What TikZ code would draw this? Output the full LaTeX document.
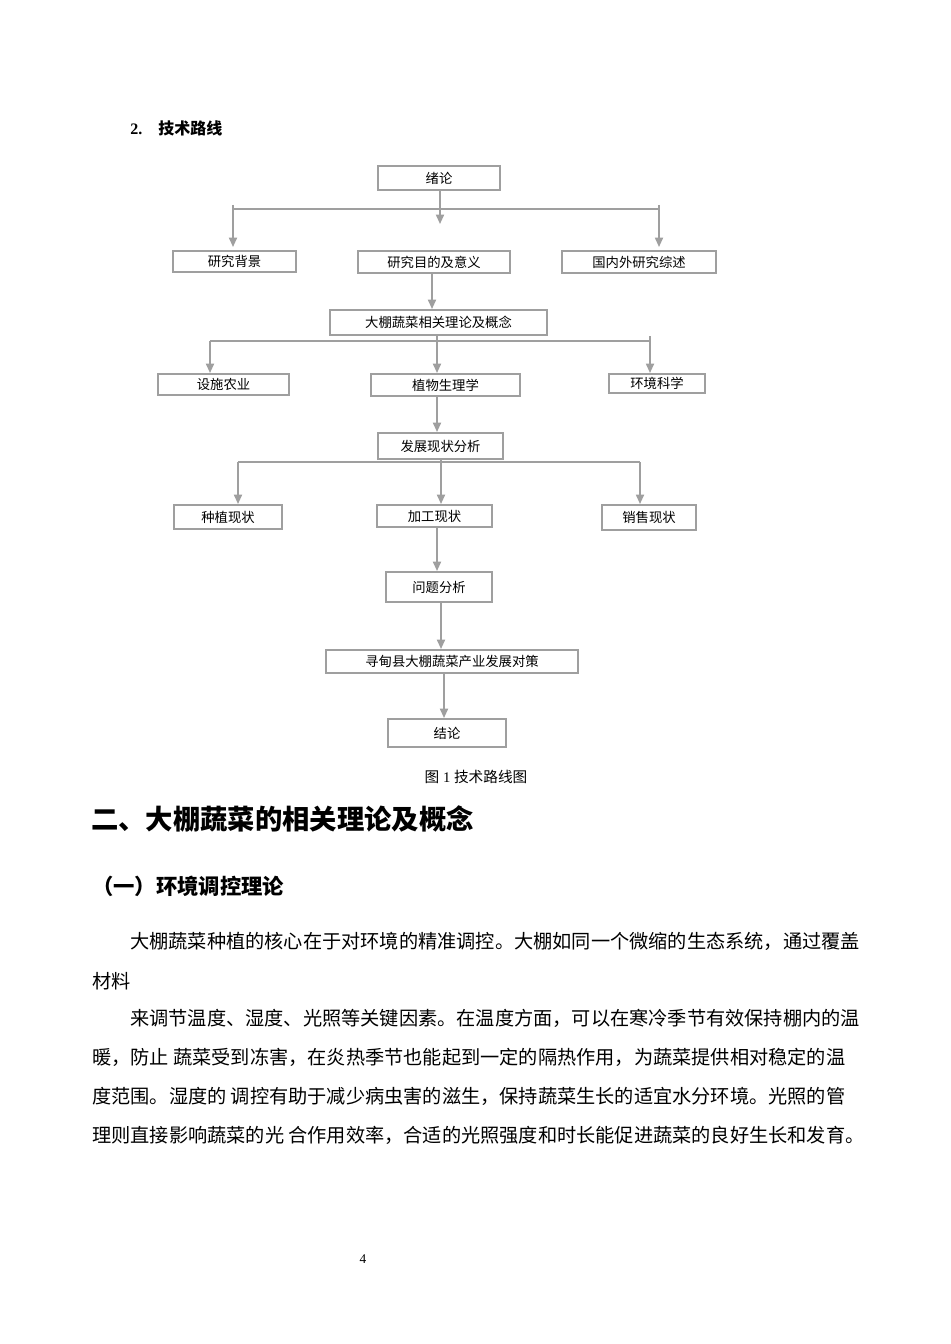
\documentclass[tikz,border=0pt]{standalone}
\usepackage{fontspec}
\setmainfont{Liberation Serif}
\newfontfamily\cjk{Noto Sans CJK SC}
\usetikzlibrary{arrows.meta}
\tikzset{
 bx/.style={draw=gray!75,line width=1.3pt,fill=white,inner sep=0pt,font=\cjk\fontsize{10}{12}\selectfont},
 ar/.style={draw=gray!75,line width=1.3pt,-{Triangle[length=7pt,width=6pt]}},
 ln/.style={draw=gray!75,line width=1.3pt},
 tx/.style={anchor=west,inner sep=0pt,font=\cjk\fontsize{14.4}{16}\selectfont}
}
\newcommand{\bxat}[6]{\node[bx,minimum width=#4*0.75pt-1.3pt,minimum height=#5*0.75pt-1.3pt] (#1) at (#2,#3) {#6};}
\begin{document}
\begin{tikzpicture}[x=0.75pt,y=-0.75pt]
\useasboundingbox[fill=white] (0,0) rectangle (950,1344);
\node[anchor=west,inner sep=0pt,font=\bfseries\fontsize{12}{14}\selectfont] (h0) at (130,128) {2.\quad{\cjk 技术路线}};
\bxat{a}{439}{178}{124}{26}{绪论}
\bxat{b1}{234.5}{261.5}{125}{23}{研究背景}
\bxat{b2}{434}{262}{154}{24}{研究目的及意义}
\bxat{b3}{639}{262}{156}{24}{国内外研究综述}
\bxat{c}{438.5}{322.5}{219}{27}{大棚蔬菜相关理论及概念}
\bxat{d1}{223.5}{384.5}{133}{23}{设施农业}
\bxat{d2}{445.5}{385}{151}{24}{植物生理学}
\bxat{d3}{657}{383.5}{98}{21}{环境科学}
\bxat{e}{440.5}{446}{127}{28}{发展现状分析}
\bxat{f1}{228}{517}{110}{26}{种植现状}
\bxat{f2}{434.5}{516}{117}{24}{加工现状}
\bxat{f3}{649}{517.5}{96}{27}{销售现状}
\bxat{g}{439}{587}{108}{32}{问题分析}
\bxat{h}{452}{661.5}{254}{25}{寻甸县大棚蔬菜产业发展对策}
\bxat{k}{447}{733}{120}{30}{结论}
\coordinate (j1) at (440,209);
\draw[ar] (a.south -| j1) -- (440,224);
\draw[ln] (233,209) -- (659,209);
\draw[ar] (233,205) -- (233,247);
\draw[ar] (659,205) -- (659,247);
\draw[ar] (b2.south -| 432,0) -- (c.north -| 432,0);
\draw[ln] (210,341) -- (650,341);
\draw[ar] (210,341) -- (d1.north -| 210,0);
\draw[ar] (c.south -| 437,0) -- (d2.north -| 437,0);
\draw[ar] (650,336) -- (d3.north -| 650,0);
\draw[ar] (d2.south -| 437,0) -- (e.north -| 437,0);
\draw[ln] (238,462) -- (640,462);
\draw[ar] (238,462) -- (f1.north -| 238,0);
\draw[ar] (e.south -| 441,0) -- (f2.north -| 441,0);
\draw[ar] (640,462) -- (f3.north -| 640,0);
\draw[ar] (f2.south -| 437,0) -- (g.north -| 437,0);
\draw[ar] (g.south -| 441,0) -- (h.north -| 441,0);
\draw[ar] (h.south -| 444,0) -- (k.north -| 444,0);
\node[inner sep=0pt,font=\fontsize{11}{13}\selectfont] (cap) at (476,777) {{\cjk 图}\ 1\ {\cjk 技术路线图}};
\node[anchor=west,inner sep=0pt,font=\cjk\bfseries\fontsize{20.5}{24}\selectfont] (t1) at (91,819) {二、大棚蔬菜的相关理论及概念};
\node[anchor=west,inner sep=0pt,font=\cjk\bfseries\fontsize{16}{20}\selectfont] (t2) at (92,886) {（一）环境调控理论};
\node[tx] (p1) at (130,941) {大棚蔬菜种植的核心在于对环境的精准调控。大棚如同一个微缩的生态系统，通过覆盖};
\node[tx] (p2) at (92,981) {材料};
\node[tx] (p3) at (130,1018) {来调节温度、湿度、光照等关键因素。在温度方面，可以在寒冷季节有效保持棚内的温};
\node[tx] (p4) at (92,1057) {暖，防止\ 蔬菜受到冻害，在炎热季节也能起到一定的隔热作用，为蔬菜提供相对稳定的温};
\node[tx] (p5) at (92,1096) {度范围。湿度的\ 调控有助于减少病虫害的滋生，保持蔬菜生长的适宜水分环境。光照的管};
\node[tx] (p6) at (92,1135) {理则直接影响蔬菜的光\ 合作用效率，合适的光照强度和时长能促进蔬菜的良好生长和发育。};
\node[inner sep=0pt,font=\fontsize{10}{12}\selectfont] (pn) at (363,1259) {4};
\end{tikzpicture}
\end{document}
